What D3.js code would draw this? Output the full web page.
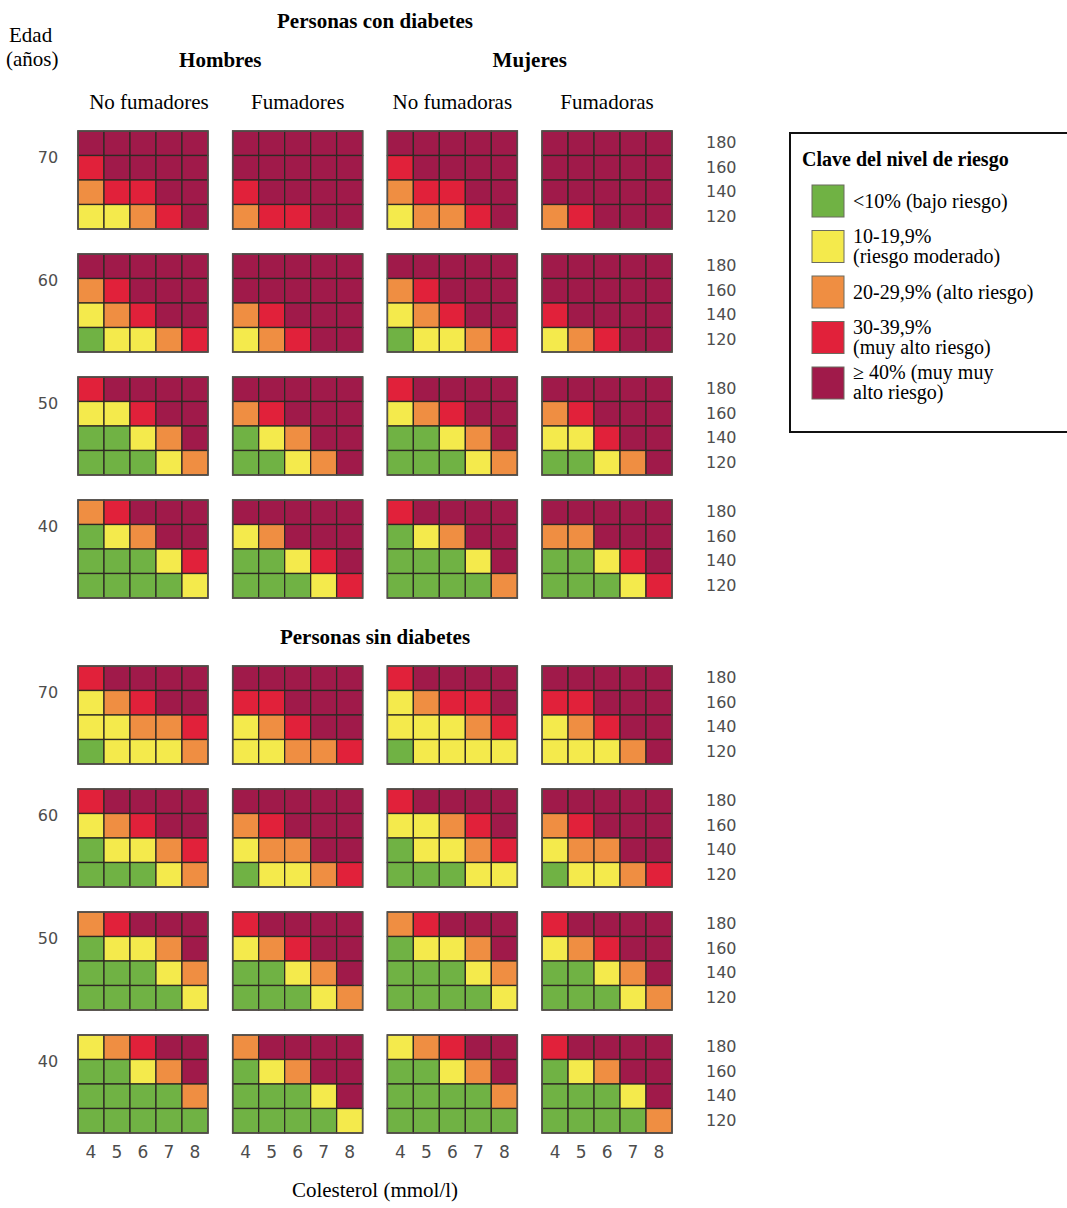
<!DOCTYPE html>
<html>
<head>
<meta charset="utf-8">
<script src="https://cdn.jsdelivr.net/npm/d3@7"></script>
<style>
  body { margin: 0; background: #fff; }
  svg { display: block; }
</style>
</head>
<body>
<script>
// chart data
var ages = [70, 60, 50, 40];
var cholesterol = [4, 5, 6, 7, 8];
var systolic = [180, 160, 140, 120];
var groups = ["No fumadores", "Fumadores", "No fumadoras", "Fumadoras"];
var sexes = ["Hombres", "Mujeres"];
var riskLabels = [
    ["<10% (bajo riesgo)"],
    ["10-19,9%", "(riesgo moderado)"],
    ["20-29,9% (alto riesgo)"],
    ["30-39,9%", "(muy alto riesgo)"],
    ["\u2265 40% (muy muy", "alto riesgo)"]
];
var riskColors = ["#70b244", "#f4ea4c", "#ef8e42", "#e1213a", "#a01a4a"];

// risk level per cell (0..4), one string per systolic row (180 -> 120), chars = cholesterol 4..8
// order of the four grids: hombres no fum., hombres fum., mujeres no fum., mujeres fum.
var conDiabetes70 = [
    ["44444", "34444", "23344", "11234"],
    ["44444", "44444", "34444", "23344"],
    ["44444", "34444", "23344", "12234"],
    ["44444", "44444", "44444", "23444"]
];
var conDiabetes60 = [
    ["44444", "23444", "12344", "01123"],
    ["44444", "44444", "23444", "12344"],
    ["44444", "23444", "12344", "01123"],
    ["44444", "44444", "34444", "12344"]
];
var conDiabetes50 = [
    ["34444", "11344", "00124", "00012"],
    ["44444", "23444", "01244", "00124"],
    ["34444", "12344", "00124", "00012"],
    ["44444", "23444", "11344", "00124"]
];
var conDiabetes40 = [
    ["23444", "01244", "00013", "00001"],
    ["44444", "12444", "00134", "00013"],
    ["34444", "01244", "00014", "00002"],
    ["44444", "22444", "00134", "00013"]
];
var sinDiabetes70 = [
    ["34444", "12344", "11223", "01112"],
    ["44444", "33444", "12344", "11223"],
    ["34444", "12334", "11123", "01111"],
    ["44444", "33444", "12344", "11124"]
];
var sinDiabetes60 = [
    ["34444", "12344", "01123", "00012"],
    ["44444", "23444", "12244", "01123"],
    ["34444", "11234", "01123", "00011"],
    ["44444", "23444", "12244", "01123"]
];
var sinDiabetes50 = [
    ["23444", "01124", "00012", "00001"],
    ["34444", "12344", "00124", "00012"],
    ["23444", "01124", "00012", "00001"],
    ["34444", "12344", "00124", "00012"]
];
var sinDiabetes40 = [
    ["12344", "00124", "00002", "00000"],
    ["24444", "01244", "00014", "00001"],
    ["12344", "00124", "00002", "00000"],
    ["34444", "01244", "00014", "00002"]
];

var sections = [
    { key: "con", title: "Personas con diabetes", top: 131, grids: [conDiabetes70, conDiabetes60, conDiabetes50, conDiabetes40] },
    { key: "sin", title: "Personas sin diabetes", top: 666, grids: [sinDiabetes70, sinDiabetes60, sinDiabetes50, sinDiabetes40] }
];

var width = 1067, height = 1208;
var serif = "'Liberation Serif', 'Times New Roman', serif";
var sans = "'DejaVu Sans', Verdana, sans-serif";
var labelGrey = "#4d4d4d";

var svg = d3.select("body").append("svg")
    .attr("width", width)
    .attr("height", height);

function translate(x, y) {
    return "translate(" + x + "," + y + ")";
}

// scales
var colX = d3.scaleBand().domain(d3.range(groups.length)).range([78, 672]).paddingInner(0.16);
var cellX = d3.scaleBand().domain(cholesterol).range([0, colX.bandwidth()]);
var rowStep = 123, gridH = 98;
var ageY = {};
sections.forEach(function(s) {
    ageY[s.key] = d3.scaleBand().domain(ages)
        .range([s.top, s.top + rowStep * (ages.length - 1) + gridH])
        .paddingInner((rowStep - gridH) / rowStep);
});
var cellY = d3.scaleBand().domain(systolic).range([0, ageY.con.bandwidth()]);

// headers
svg.append("text")
    .attr("x", (colX(1) + colX(2) + colX.bandwidth()) / 2).attr("y", 28)
    .attr("text-anchor", "middle")
    .style("font-family", serif).style("font-weight", "bold").style("font-size", "21px")
    .text(sections[0].title);

svg.append("text").attr("x", 9).attr("y", 42)
    .style("font-family", serif).style("font-size", "21px").text("Edad");
svg.append("text").attr("x", 6).attr("y", 66)
    .style("font-family", serif).style("font-size", "21px").text("(años)");

sexes.forEach(function(s, i) {
    var cx = (colX(2 * i) + colX(2 * i + 1) + colX.bandwidth()) / 2;
    svg.append("text")
        .attr("x", cx).attr("y", 67)
        .attr("text-anchor", "middle")
        .style("font-family", serif).style("font-weight", "bold").style("font-size", "21px")
        .text(s);
});

svg.selectAll(".group-label")
    .data(groups)
    .enter().append("text")
    .attr("class", "group-label")
    .attr("x", function(d, i) { return colX(i) + colX.bandwidth() / 2 + (i == 0 ? 6 : 0); })
    .attr("y", 109)
    .attr("text-anchor", "middle")
    .style("font-family", serif).style("font-size", "21px")
    .text(function(d) { return d; });

svg.append("text")
    .attr("x", (colX(1) + colX(2) + colX.bandwidth()) / 2).attr("y", 644)
    .attr("text-anchor", "middle")
    .style("font-family", serif).style("font-weight", "bold").style("font-size", "21px")
    .text(sections[1].title);

// grids
sections.forEach(function(s) {
    var ys = ageY[s.key];
    s.grids.forEach(function(ageGrids, ai) {
        var age = ages[ai];
        var top = ys(age);

        // age label
        svg.append("text")
            .attr("x", 48).attr("y", top + 26)
            .attr("dy", "0.35em")
            .attr("text-anchor", "middle")
            .style("font-family", sans).style("font-size", "16px")
            .style("fill", labelGrey)
            .text(age);

        ageGrids.forEach(function(rows, gi) {
            var cells = [];
            rows.forEach(function(str, ri) {
                cholesterol.forEach(function(c, ci) {
                    cells.push({ sbp: systolic[ri], chol: c, level: +str[ci] });
                });
            });

            var g = svg.append("g")
                .attr("class", "grid")
                .attr("transform", translate(colX(gi), top));

            g.selectAll("rect.cell")
                .data(cells)
                .enter().append("rect")
                .attr("class", "cell")
                .attr("x", function(d) { return cellX(d.chol); })
                .attr("y", function(d) { return cellY(d.sbp); })
                .attr("width", cellX.bandwidth())
                .attr("height", cellY.bandwidth())
                .style("fill", function(d) { return riskColors[d.level]; })
                .style("stroke", "#2f2a24")
                .style("stroke-width", 1.3);

            g.append("rect")
                .attr("width", colX.bandwidth())
                .attr("height", ys.bandwidth())
                .style("fill", "none")
                .style("stroke", "#55514c")
                .style("stroke-width", 1.6);
        });

        // systolic pressure labels
        var yAxis = d3.axisRight(cellY).tickSize(0).tickPadding(0);
        var ax = svg.append("g")
            .attr("class", "y-axis")
            .attr("transform", translate(706, top))
            .call(yAxis);
        ax.select(".domain").remove();
        ax.selectAll("text")
            .style("font-family", sans).style("font-size", "16px")
            .style("fill", labelGrey);
    });
});

// cholesterol labels
var lastBottom = ageY.sin(ages[ages.length - 1]) + ageY.sin.bandwidth();
groups.forEach(function(d, i) {
    var xAxis = d3.axisBottom(cellX).tickSize(0).tickPadding(13);
    var ax = svg.append("g")
        .attr("class", "x-axis")
        .attr("transform", translate(colX(i), lastBottom))
        .call(xAxis);
    ax.select(".domain").remove();
    ax.selectAll("text")
        .style("font-family", sans).style("font-size", "17px")
        .style("fill", labelGrey);
});

svg.append("text")
    .attr("x", (colX(1) + colX(2) + colX.bandwidth()) / 2).attr("y", 1197)
    .attr("text-anchor", "middle")
    .style("font-family", serif).style("font-size", "21px")
    .text("Colesterol (mmol/l)");

// legend
var legend = svg.append("g").attr("class", "legend").attr("transform", translate(790, 133));
legend.append("rect")
    .attr("width", 290).attr("height", 299)
    .style("fill", "#fff")
    .style("stroke", "#111")
    .style("stroke-width", 2);
legend.append("text")
    .attr("x", 12).attr("y", 33)
    .style("font-family", serif).style("font-weight", "bold").style("font-size", "20px")
    .text("Clave del nivel de riesgo");

var legendY = d3.scalePoint().domain(d3.range(riskColors.length)).range([52, 234]);
var items = legend.selectAll(".item")
    .data(riskLabels)
    .enter().append("g")
    .attr("class", "item")
    .attr("transform", function(d, i) { return translate(22, legendY(i)); });

items.append("rect")
    .attr("width", 32).attr("height", 32)
    .style("fill", function(d, i) { return riskColors[i]; })
    .style("stroke", "#6b6b5e")
    .style("stroke-width", 1);

items.each(function(lines) {
    var t = d3.select(this).append("text")
        .style("font-family", serif).style("font-size", "20px");
    if (lines.length == 1) {
        t.append("tspan").attr("x", 41).attr("y", 23).text(lines[0]);
    } else {
        t.append("tspan").attr("x", 41).attr("y", 12).text(lines[0]);
        t.append("tspan").attr("x", 41).attr("y", 32).text(lines[1]);
    }
});
</script>
</body>
</html>
